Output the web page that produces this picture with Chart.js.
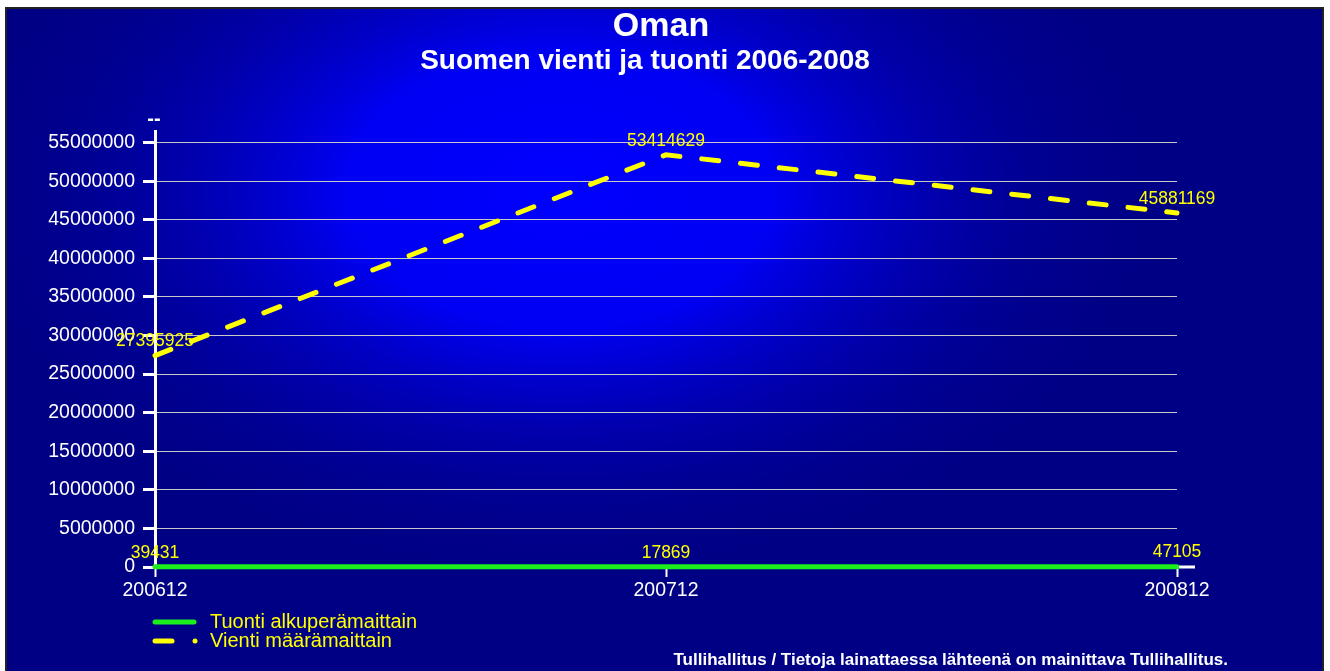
<!DOCTYPE html>
<html>
<head>
<meta charset="utf-8">
<title>Oman - Suomen vienti ja tuonti 2006-2008</title>
<script src="https://cdn.jsdelivr.net/npm/chart.js@4/dist/chart.umd.min.js"></script>
<style>
    html, body { margin: 0; padding: 0; background: #ffffff; }
    canvas { display: block; }
</style>
</head>
<body>
<canvas id="tradeChart" width="1330" height="671"></canvas>
<script>
// 数据
const periods = ['200612', '200712', '200812'];
const tuontiValues = [39431, 17869, 47105];
const vientiValues = [27395925, 53414629, 45881169];
const seriesNames = ['Tuonti alkuperämaittain', 'Vienti määrämaittain'];
const yTicks = [0, 5000000, 10000000, 15000000, 20000000, 25000000,
    30000000, 35000000, 40000000, 45000000, 50000000, 55000000];
const titleText = 'Oman';
const subtitleText = 'Suomen vienti ja tuonti 2006-2008';
const sourceText = 'Tullihallitus / Tietoja lainattaessa lähteenä on mainittava Tullihallitus.';

const FONT = '"Liberation Sans", Arial, sans-serif';
const GREEN = '#1cf01c';
const YELLOW = '#ffff00';

// 背景和边框
const backgroundPlugin = {
    id: 'background',
    beforeDraw(chart) {
        const ctx = chart.ctx;
        ctx.save();
        ctx.fillStyle = '#ffffff';
        ctx.fillRect(0, 0, chart.width, chart.height);
        ctx.fillStyle = '#000085';
        ctx.fillRect(6, 8, 1317, 670);

        // 椭圆形的亮蓝色渐变
        ctx.beginPath();
        ctx.rect(6, 8, 1317, 670);
        ctx.clip();
        ctx.translate(560, 190);
        ctx.scale(1.55, 1);
        const g = ctx.createRadialGradient(0, 0, 0, 0, 0, 400);
        g.addColorStop(0, '#0000ff');
        g.addColorStop(0.35, '#0000f2');
        g.addColorStop(1, 'rgba(0,0,133,0)');
        ctx.fillStyle = g;
        ctx.fillRect(-500, -300, 1000, 800);
        ctx.restore();

        ctx.save();
        ctx.strokeStyle = '#222222';
        ctx.lineWidth = 2;
        ctx.strokeRect(6, 8, 1317, 680);
        ctx.restore();
    }
};

// 标题、图例、数据标签和来源
const decorPlugin = {
    id: 'decor',
    afterDatasetsDraw(chart) {
        const ctx = chart.ctx;
        const area = chart.chartArea;
        ctx.save();

        // x 轴向右延伸
        ctx.strokeStyle = '#ffffff';
        ctx.lineWidth = 3;
        ctx.beginPath();
        ctx.moveTo(area.right + 2, area.bottom);
        ctx.lineTo(area.right + 18, area.bottom);
        ctx.stroke();

        // 数据标签
        ctx.fillStyle = YELLOW;
        ctx.font = '17.5px ' + FONT;
        ctx.textAlign = 'center';
        ctx.textBaseline = 'middle';
        chart.data.datasets.forEach((ds, i) => {
            const meta = chart.getDatasetMeta(i);
            meta.data.forEach((pt, j) => {
                ctx.fillText(String(ds.data[j]), pt.x, pt.y - 14);
            });
        });

        // 标题
        ctx.fillStyle = '#ffffff';
        ctx.font = 'bold 34px ' + FONT;
        ctx.fillText(titleText, 661, 27);
        ctx.font = 'bold 28px ' + FONT;
        ctx.fillText(subtitleText, 645, 61);

        ctx.font = 'bold 20px ' + FONT;
        ctx.fillText('--', 154, 119);

        // 图例
        ctx.lineCap = 'round';
        ctx.lineWidth = 5;
        ctx.strokeStyle = chart.data.datasets[0].borderColor;
        ctx.beginPath();
        ctx.moveTo(155, 622);
        ctx.lineTo(194, 622);
        ctx.stroke();
        ctx.strokeStyle = chart.data.datasets[1].borderColor;
        ctx.beginPath();
        ctx.moveTo(155, 641);
        ctx.lineTo(172, 641);
        ctx.stroke();
        ctx.beginPath();
        ctx.arc(195, 641, 2.5, 0, Math.PI * 2);
        ctx.fillStyle = YELLOW;
        ctx.fill();

        ctx.fillStyle = YELLOW;
        ctx.font = '20px ' + FONT;
        ctx.textAlign = 'left';
        ctx.fillText(chart.data.datasets[0].label, 210, 622);
        ctx.fillText(chart.data.datasets[1].label, 210, 641);

        // 来源
        ctx.fillStyle = '#ffffff';
        ctx.font = 'bold 17px ' + FONT;
        ctx.textAlign = 'right';
        ctx.textBaseline = 'alphabetic';
        ctx.fillText(sourceText, 1228, 665);
        ctx.restore();
    }
};

const ctx = document.getElementById('tradeChart');

new Chart(ctx, {
    type: 'line',
    data: {
        labels: periods,
        datasets: [{
            label: seriesNames[0],
            data: tuontiValues,
            borderColor: GREEN,
            borderWidth: 5,
            borderCapStyle: 'round',
            pointRadius: 0,
            tension: 0,
            clip: false
        }, {
            label: seriesNames[1],
            data: vientiValues,
            borderColor: YELLOW,
            borderWidth: 5,
            borderDash: [17, 22],
            borderCapStyle: 'round',
            pointRadius: 0,
            tension: 0,
            clip: false
        }]
    },
    options: {
        responsive: false,
        animation: false,
        layout: {
            padding: { top: 131, right: 153, left: 0, bottom: 0 }
        },
        plugins: {
            legend: { display: false },
            tooltip: { enabled: false }
        },
        scales: {
            x: {
                offset: false,
                afterFit(scale) { scale.height = 104; },
                grid: {
                    drawOnChartArea: false,
                    tickColor: '#ffffff',
                    tickWidth: 2,
                    tickLength: 10
                },
                border: { color: '#ffffff', width: 3 },
                ticks: {
                    color: '#ffffff',
                    font: { family: FONT, size: 19.5 },
                    padding: 2,
                    maxRotation: 0
                }
            },
            y: {
                min: 0,
                max: 56500000,
                afterFit(scale) { scale.width = 155; },
                afterBuildTicks(scale) {
                    scale.ticks = yTicks.map(v => ({ value: v }));
                },
                grid: {
                    color: '#c8c8c8',
                    lineWidth: 1,
                    tickColor: '#ffffff',
                    tickWidth: 3,
                    tickLength: 12
                },
                border: { color: '#ffffff', width: 3 },
                ticks: {
                    color: '#ffffff',
                    font: { family: FONT, size: 19.5 },
                    padding: 8,
                    callback: v => String(v)
                }
            }
        }
    },
    plugins: [backgroundPlugin, decorPlugin]
});
</script>
</body>
</html>
